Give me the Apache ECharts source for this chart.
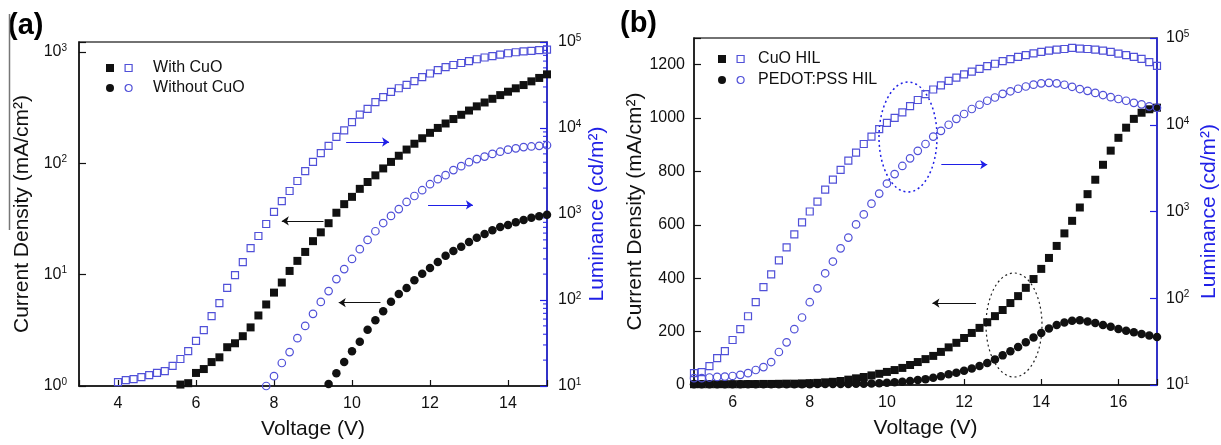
<!DOCTYPE html>
<html>
<head>
<meta charset="utf-8">
<title>CuO HIL - J and L vs V</title>
<script src="https://cdn.jsdelivr.net/npm/echarts@6/dist/echarts.min.js"></script>
<style>
html, body { margin: 0; padding: 0; background: #fff; }
#chart { width: 1221px; height: 445px; }
</style>
</head>
<body>
<div id="chart"></div>
<script>
// ---- panel (a) data, voltage steps of 0.2 V ----
var voltsA = [4.0, 4.2, 4.4, 4.6, 4.8, 5.0, 5.2, 5.4, 5.6, 5.8, 6.0, 6.2, 6.4, 6.6, 6.8, 7.0, 7.2, 7.4, 7.6, 7.8,
	8.0, 8.2, 8.4, 8.6, 8.8, 9.0, 9.2, 9.4, 9.6, 9.8, 10.0, 10.2, 10.4, 10.6, 10.8, 11.0, 11.2, 11.4, 11.6, 11.8,
	12.0, 12.2, 12.4, 12.6, 12.8, 13.0, 13.2, 13.4, 13.6, 13.8, 14.0, 14.2, 14.4, 14.6, 14.8, 15.0];
var jWithCuO = [null, null, null, null, null, null, null, 0.98, 1.03, 1.06, 1.31, 1.42, 1.64, 1.81, 2.23, 2.42, 2.8, 3.36, 4.3, 5.4,
	6.9, 8.5, 10.8, 13.3, 16, 20, 24, 29, 36, 43, 50, 59, 68, 78, 90, 103, 117, 133, 150, 168,
	188, 208, 228, 250, 273, 298, 325, 352, 380, 410, 440, 472, 505, 545, 585, 630];
var jWithoutCuO = [null, null, null, null, null, null, null, null, null, null, null, null, null, null, null, null, null, null, null, null,
	null, null, null, null, null, null, null, 1.04, 1.3, 1.64, 2.05, 2.5, 3.2, 3.9, 4.7, 5.7, 6.7, 7.6, 8.9, 10.2,
	11.5, 13.0, 14.8, 16.3, 17.8, 19.7, 21.5, 23.2, 25, 26.8, 28, 29.5, 31, 32.5, 33.5, 34.5];
var lWithCuO = [11.1, 11.7, 12.0, 12.7, 13.4, 14.2, 14.9, 17.1, 20.6, 25.5, 33.4, 44.7, 65, 92, 138, 195, 276, 402, 555, 765,
	1060, 1410, 1850, 2420, 3150, 4040, 5100, 6200, 7900, 9400, 11700, 14300, 16700, 20000, 22800, 26300, 29000, 31700, 35000, 39000,
	43000, 47000, 51000, 54000, 57000, 60000, 63000, 66000, 68500, 71500, 74000, 76000, 78000, 79000, 80500, 81500];
var lWithoutCuO = [null, null, null, null, null, null, null, null, null, null, null, null, null, null, null, null, null, null, null, 10,
	13, 18.5, 24.8, 36, 50, 69, 95, 127, 175, 229, 300, 390, 500, 630, 785, 950, 1140, 1380, 1620, 1890,
	2220, 2540, 2830, 3240, 3600, 4000, 4350, 4650, 5000, 5300, 5600, 5800, 6000, 6100, 6200, 6300];

// ---- panel (b) data ----
var voltsB = [5.0, 5.2, 5.4, 5.6, 5.8, 6.0, 6.2, 6.4, 6.6, 6.8, 7.0, 7.2, 7.4, 7.6, 7.8, 8.0, 8.2, 8.4, 8.6, 8.8,
	9.0, 9.2, 9.4, 9.6, 9.8, 10.0, 10.2, 10.4, 10.6, 10.8, 11.0, 11.2, 11.4, 11.6, 11.8, 12.0, 12.2, 12.4, 12.6, 12.8,
	13.0, 13.2, 13.4, 13.6, 13.8, 14.0, 14.2, 14.4, 14.6, 14.8, 15.0, 15.2, 15.4, 15.6, 15.8, 16.0, 16.2, 16.4, 16.6, 16.8, 17.0];
var jCuOHil = [3, 3, 3, 3, 3, 3, 3, 3.5, 3.5, 4, 4, 4.5, 5, 5, 6, 7, 8, 10, 12, 15,
	20, 25, 30, 36, 42, 49, 56, 64, 75, 86, 97, 109, 124, 141, 158, 176, 195, 214, 235, 258,
	281, 307, 333, 364, 397, 435, 476, 521, 568, 615, 665, 715, 769, 825, 878, 926, 964, 997, 1020, 1033, 1039];
var jPedotHil = [3, 3, 3, 3, 3, 3, 3, 3, 3, 3, 3, 3, 3, 3, 3, 3, 3.5, 3.5, 3.5, 4,
	4, 4.5, 5, 5.5, 6.5, 8, 10, 12, 15, 19, 22, 27, 33, 40, 46, 53, 62, 71, 82, 96,
	111, 126, 142, 160, 178, 195, 212, 225, 234, 241, 243, 238, 232, 225, 218, 210, 203, 198, 191, 185, 180];
var lCuOHil = [13.7, 14.1, 16.5, 20.4, 24.6, 33, 44, 62, 90, 134, 188, 273, 386, 545, 748, 1000, 1300, 1790, 2330, 3020,
	3860, 4770, 6000, 7300, 8900, 10500, 12000, 13900, 16400, 19300, 22500, 25500, 28500, 32000, 35000, 38000, 41000, 44000, 47500, 50500,
	54000, 57000, 60500, 63500, 66500, 69100, 71500, 73400, 74700, 76800, 75500, 74700, 73400, 71500, 69100, 66000, 63500, 60700, 57400, 52600, 47600];
var lPedotHil = [12, 12, 12.2, 12.4, 12.5, 12.7, 13.1, 13.7, 14.9, 16.1, 18.4, 24, 31, 44, 60, 90, 130, 194, 265, 376,
	500, 710, 925, 1230, 1610, 2100, 2700, 3350, 4100, 5000, 6000, 7300, 8500, 10000, 11700, 13300, 15200, 17000, 18900, 20600,
	22700, 24300, 26000, 27600, 29000, 30000, 30400, 30000, 28900, 27400, 25800, 24600, 23300, 22000, 20800, 19800, 18900, 17900, 17200, 16300, 15700];

var FONT = 'Liberation Sans, Arial, sans-serif';
var BLACK = '#111';
var BLUE = '#1f1fe6';
var MARK_BLUE = '#5050d8';

function pairs(xs, ys) {
	var out = [];
	for (var i = 0; i < xs.length; i++) {
		if (ys[i] != null) out.push([xs[i], ys[i]]);
	}
	return out;
}

// log tick label as 10 with superscript exponent
function powLabel(v) {
	var e = Math.log(v) / Math.LN10;
	var r = Math.round(e);
	if (Math.abs(e - r) > 1e-6) return '';
	return '{b|10}{s|' + r + '}';
}

var RICH = {
	b: { fontSize: 16, fontFamily: FONT, color: BLACK, lineHeight: 18 },
	s: { fontSize: 10, fontFamily: FONT, color: BLACK, lineHeight: 9, verticalAlign: 'top' }
};

// minor ticks (2..9 of every decade) for the right axis of (a)
var minorA = [];
for (var d = 10; d < 100000; d *= 10) {
	for (var m = 2; m <= 9; m++) minorA.push([15, d * m]);
}

function xAxisCfg(grid, min, max) {
	return {
		gridIndex: grid, type: 'value', min: min, max: max, splitNumber: 6,
		axisLine: { show: true, onZero: false, lineStyle: { color: BLACK, width: 1.5 } },
		axisTick: { show: true, inside: true, length: 6, lineStyle: { color: BLACK, width: 1.2 } },
		axisLabel: {
			margin: 10, fontSize: 16, fontFamily: FONT, color: BLACK,
			formatter: function(v) { return (v % 2 === 0) ? String(v) : ''; }
		},
		splitLine: { show: false },
		name: 'Voltage (V)', nameLocation: 'middle', nameGap: 33,
		nameTextStyle: { fontSize: 21, fontFamily: FONT, color: BLACK }
	};
}

function logRightAxis(grid, margin, gap) {
	return {
		gridIndex: grid, type: 'log', min: 10, max: 100000, position: 'right',
		axisLine: { show: true, lineStyle: { color: BLUE, width: 1.5 } },
		axisTick: { show: true, inside: true, length: 7, lineStyle: { color: BLUE, width: 1.2 } },
		axisLabel: { formatter: powLabel, rich: RICH, margin: margin },
		splitLine: { show: false },
		name: 'Luminance (cd/m²)', nameLocation: 'middle', nameRotate: 90, nameGap: gap,
		nameTextStyle: { fontSize: 21, fontFamily: FONT, color: BLUE }
	};
}

function scatter(name, data, x, y, symbol, size, open) {
	return {
		name: name, type: 'scatter', xAxisIndex: x, yAxisIndex: y,
		data: data, symbol: symbol, symbolSize: size, animation: false,
		itemStyle: open ? { color: 'rgba(0,0,0,0)', borderColor: MARK_BLUE, borderWidth: 1.2, opacity: 1 } : { color: BLACK, opacity: 1 }
	};
}

function arrows(color, lines) {
	return {
		silent: true, symbol: ['none', 'arrow'], symbolSize: 7, animation: false,
		label: { show: false },
		lineStyle: { color: color, width: 1, type: 'solid' },
		data: lines
	};
}

var legendText = function(name) { return name.slice(3); };

var sJw = scatter('J: With CuO', pairs(voltsA, jWithCuO), 0, 0, 'rect', 8, false);
sJw.markLine = arrows(BLACK, [
	[{ coord: [9.27, 30.4] }, { coord: [8.2, 30.4] }],
	[{ coord: [10.73, 5.6] }, { coord: [9.66, 5.6] }]
]);
var sLw = scatter('L: With CuO', pairs(voltsA, lWithCuO), 0, 1, 'rect', 7, true);
sLw.markLine = arrows(BLUE, [
	[{ coord: [9.85, 6870] }, { coord: [10.95, 6870] }],
	[{ coord: [11.95, 1274] }, { coord: [13.1, 1274] }]
]);
var sJb = scatter('J: CuO HIL', pairs(voltsB, jCuOHil), 1, 2, 'rect', 8, false);
sJb.markLine = arrows(BLACK, [[{ coord: [12.31, 307] }, { coord: [11.18, 307] }]]);
var sLb = scatter('L: CuO HIL', pairs(voltsB, lCuOHil), 1, 3, 'rect', 7, true);
sLb.markLine = arrows(BLUE, [[{ coord: [11.41, 3470] }, { coord: [12.6, 3470] }]]);

// short inward tick segments on the right axis of (a)
var minorTicks = {
	type: 'custom', xAxisIndex: 0, yAxisIndex: 1, silent: true, data: minorA, z: 1,
	renderItem: function(params, api) {
		var p = api.coord([api.value(0), api.value(1)]);
		return { type: 'line', shape: { x1: p[0] - 4, y1: p[1], x2: p[0], y2: p[1] }, style: { stroke: BLUE, lineWidth: 1 } };
	}
};

var openStyle = { color: 'rgba(0,0,0,0)', borderColor: MARK_BLUE, borderWidth: 1.2, opacity: 1 };
var solidStyle = { color: BLACK, opacity: 1 };

var option = {
	backgroundColor: '#fff',
	animation: false,
	textStyle: { fontFamily: FONT },
	grid: [
		{ left: 79, top: 42, width: 468, height: 345, show: true, borderColor: '#444', borderWidth: 1.5 },
		{ left: 694, top: 38, width: 465, height: 347, show: true, borderColor: '#444', borderWidth: 1.5 }
	],
	xAxis: [xAxisCfg(0, 3, 15), xAxisCfg(1, 5, 17)],
	yAxis: [
		{
			gridIndex: 0, type: 'log', min: 1, max: 1230, position: 'left',
			axisLine: { show: true, lineStyle: { color: BLACK, width: 1.5 } },
			axisTick: { show: true, inside: true, length: 7, lineStyle: { color: BLACK, width: 1.2 } },
			axisLabel: { formatter: powLabel, rich: RICH, margin: 12 },
			splitLine: { show: false },
			name: 'Current Density (mA/cm²)', nameLocation: 'middle', nameRotate: 90, nameGap: 46,
			nameTextStyle: { fontSize: 21, fontFamily: FONT, color: BLACK }
		},
		logRightAxis(0, 11, 40),
		{
			gridIndex: 1, type: 'value', min: 0, max: 1300, interval: 200, position: 'left',
			axisLine: { show: true, lineStyle: { color: BLACK, width: 1.5 } },
			axisTick: { show: true, inside: true, length: 7, lineStyle: { color: BLACK, width: 1.2 } },
			axisLabel: {
				margin: 9, fontSize: 16, fontFamily: FONT, color: BLACK,
				formatter: function(v) { return (v % 200 === 0) ? String(v) : ''; }
			},
			splitLine: { show: false },
			name: 'Current Density (mA/cm²)', nameLocation: 'middle', nameRotate: 90, nameGap: 48,
			nameTextStyle: { fontSize: 21, fontFamily: FONT, color: BLACK }
		},
		logRightAxis(1, 9, 42)
	],
	legend: [
		{
			data: [{ name: 'J: With CuO', itemStyle: solidStyle }, { name: 'J: Without CuO', itemStyle: solidStyle }],
			left: 101, top: 54, orient: 'vertical',
			itemWidth: 8, itemHeight: 8, itemGap: 2, selectedMode: false, formatter: legendText,
			textStyle: { color: 'rgba(0,0,0,0)', fontSize: 16, lineHeight: 18 }
		},
		{
			data: [{ name: 'L: With CuO', itemStyle: openStyle }, { name: 'L: Without CuO', itemStyle: openStyle }],
			left: 119.5, top: 54, orient: 'vertical',
			itemWidth: 7, itemHeight: 7, itemGap: 2, selectedMode: false, formatter: legendText,
			textStyle: { color: BLACK, fontSize: 16, lineHeight: 18, fontFamily: FONT, padding: [0, 0, 0, 16] }
		},
		{
			data: [{ name: 'J: CuO HIL', itemStyle: solidStyle }, { name: 'J: PEDOT:PSS HIL', itemStyle: solidStyle }],
			left: 713, top: 45, orient: 'vertical',
			itemWidth: 8, itemHeight: 8, itemGap: 3, selectedMode: false, formatter: legendText,
			textStyle: { color: 'rgba(0,0,0,0)', fontSize: 16, lineHeight: 18 }
		},
		{
			data: [{ name: 'L: CuO HIL', itemStyle: openStyle }, { name: 'L: PEDOT:PSS HIL', itemStyle: openStyle }],
			left: 731.5, top: 45, orient: 'vertical',
			itemWidth: 7, itemHeight: 7, itemGap: 3, selectedMode: false, formatter: legendText,
			textStyle: { color: BLACK, fontSize: 16, lineHeight: 18, fontFamily: FONT, padding: [0, 0, 0, 9] }
		}
	],
	graphic: [
		{ type: 'text', left: 8, top: 11, style: { text: '(a)', font: 'bold 29px ' + FONT, fill: '#000' } },
		{ type: 'text', left: 620, top: 9, style: { text: '(b)', font: 'bold 29px ' + FONT, fill: '#000' } },
		{ type: 'line', shape: { x1: 9.5, y1: 14, x2: 9.5, y2: 230 }, style: { stroke: '#777', lineWidth: 1.5 } },
		{ type: 'ellipse', shape: { cx: 908, cy: 137, rx: 29, ry: 55 }, style: { fill: 'none', stroke: BLUE, lineWidth: 1.5, lineDash: [2, 3] } },
		{ type: 'ellipse', shape: { cx: 1014, cy: 325, rx: 28, ry: 52 }, style: { fill: 'none', stroke: '#222', lineWidth: 1.2, lineDash: [2, 3] } }
	],
	series: [
		minorTicks,
		sJw,
		scatter('J: Without CuO', pairs(voltsA, jWithoutCuO), 0, 0, 'circle', 8.5, false),
		sLw,
		scatter('L: Without CuO', pairs(voltsA, lWithoutCuO), 0, 1, 'circle', 7.5, true),
		sJb,
		scatter('J: PEDOT:PSS HIL', pairs(voltsB, jPedotHil), 1, 2, 'circle', 8.5, false),
		sLb,
		scatter('L: PEDOT:PSS HIL', pairs(voltsB, lPedotHil), 1, 3, 'circle', 7.5, true)
	]
};

var myChart = echarts.init(document.getElementById('chart'));
myChart.setOption(option);
</script>
</body>
</html>
